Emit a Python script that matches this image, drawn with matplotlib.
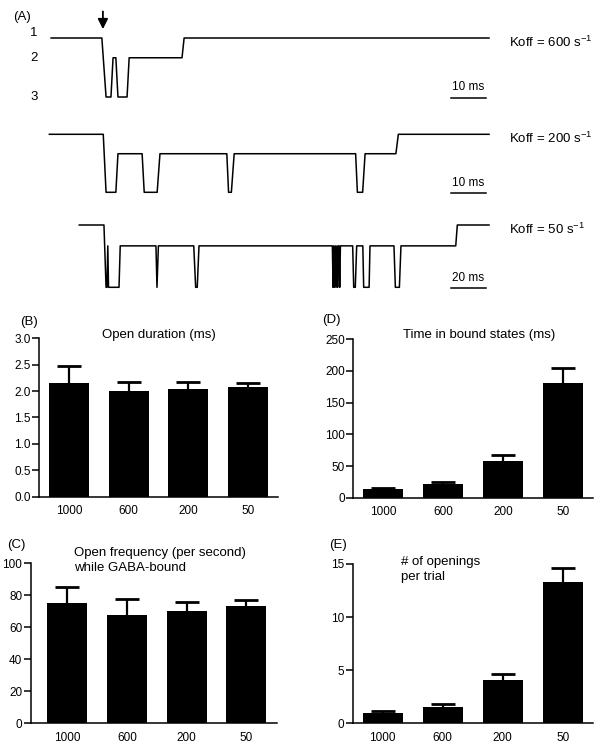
import matplotlib.pyplot as plt
import matplotlib.transforms as mtransforms
import numpy as np

plt.rcParams['font.family'] = ['Liberation Sans', 'DejaVu Sans']
plt.rcParams['mathtext.fontset'] = 'custom'
plt.rcParams['mathtext.rm'] = 'Liberation Sans'

# ---- panel A: single-channel state traces (time in ms, state 1/2/3) ----
trace1_t = [0.6, 15.1, 16.3, 17.7, 18.3, 19.1, 19.7, 22.3, 22.9, 38.0, 38.6, 125.7]
trace1_s = [1, 1, 3, 3, 2, 2, 3, 3, 2, 2, 1, 1]

trace2_t = [0.1, 15.5, 16.3, 19.1, 19.7, 26.6, 27.2, 30.9, 31.7, 50.8, 51.3, 52.1, 52.9,
            87.6, 88.1, 89.6, 90.3, 99.1, 99.8, 125.7]
trace2_s = [1, 1, 3, 3, 2, 2, 3, 3, 2, 2, 3, 3, 2, 2, 3, 3, 2, 2, 1, 1]

trace3_t = [17.3, 31.4, 32.6, 33.1, 33.6, 34.0, 40.0, 40.7, 61.1, 61.7, 62.5, 82.7, 83.8, 84.7,
            85.7, 161.9, 162.3, 162.7, 163.1, 163.6, 164.0, 164.5, 164.9, 165.3, 165.7, 166.1,
            166.5, 173.5, 174.1, 175.0, 175.8, 179.3, 179.8, 182.9, 183.4, 197.1, 197.9, 200.2,
            201.1, 232.4, 233.3, 251.4]
trace3_s = [1, 1, 3, 3, 2, 3, 3, 2, 2, 3, 2, 2, 3, 3, 2, 2, 3, 2, 3, 2, 3, 2, 3, 2, 2, 3,
            2, 2, 3, 3, 2, 2, 3, 3, 2, 2, 3, 3, 2, 2, 1, 1]

koff_values = [600, 200, 50]
scalebar_ms = [10, 10, 20]
trace_span_ms = [125.7, 125.7, 251.4]
arrow_time = 15.4

# ---- panels B-E ----
categories = ["1000", "600", "200", "50"]

open_duration = [2.15, 2.0, 2.045, 2.08]
open_duration_err = [0.32, 0.18, 0.12, 0.07]

open_freq = [75.0, 67.9, 70.4, 73.5]
open_freq_err = [10.2, 9.6, 5.6, 3.4]

bound_time = [13.3, 21.6, 58.4, 181.5]
bound_time_err = [2.5, 3.0, 8.5, 22.7]

n_openings = [1.0, 1.51, 4.11, 13.3]
n_openings_err = [0.19, 0.28, 0.56, 1.35]

W, H = 601, 751


def px_rect(l, t, r, b):
    return [l / W, 1 - b / H, (r - l) / W, (b - t) / H]


fig = plt.figure(figsize=(W / 100, H / 100), dpi=100)

level_y = {1: 1.0, 2: 0.665, 3: 0.0}
trace_boxes = [(38, 97), (134.3, 192.3), (225, 287.3)]
traces = [(trace1_t, trace1_s), (trace2_t, trace2_s), (trace3_t, trace3_s)]

for i, ((t, s), (top, bot)) in enumerate(zip(traces, trace_boxes)):
    ax = fig.add_axes(px_rect(49, top, 489, bot))
    ax.axis("off")
    span = trace_span_ms[i]
    ax.set_xlim(0, span)
    ax.set_ylim(0, 1)
    ax.plot(t, [level_y[v] for v in s], color="k", lw=1.1, clip_on=False)

    # scale bar
    x1 = span * 0.993
    x0 = x1 - scalebar_ms[i]
    ax.plot([x0, x1], [-0.01, -0.01], color="k", lw=1.1, clip_on=False)
    ax.annotate("%d ms" % scalebar_ms[i], xy=((x0 + x1) / 2, 0), xytext=(0, 7),
                textcoords="offset points", ha="center", va="center", fontsize=8.5)
    ax.text(1.045, 0.93, "Koff = %d s$^{-1}$" % koff_values[i], transform=ax.transAxes,
            ha="left", va="center", fontsize=9.5)

    if i == 0:
        trans = mtransforms.blended_transform_factory(ax.transAxes, ax.transData)
        for st, yy in [(1, 1.08), (2, 0.665), (3, 0.0)]:
            ax.text(-0.034, yy, str(st), transform=trans, ha="center", va="center", fontsize=9.5)
        ax.annotate("", xy=(arrow_time, 1.15), xytext=(arrow_time, 1.45),
                    arrowprops=dict(arrowstyle="-|>", color="k", lw=1.3, mutation_scale=15,
                                    shrinkA=0, shrinkB=0),
                    annotation_clip=False)


def bar_panel(rect, vals, errs, ylim, yticks, fmt, xlim=(-0.5, 3.5)):
    ax = fig.add_axes(rect)
    x = np.arange(len(categories))
    ax.bar(x, vals, width=0.67, color="black", zorder=2)
    _, caps, _ = ax.errorbar(x, vals, yerr=[np.zeros(len(vals)), errs], fmt="none",
                             ecolor="black", elinewidth=1.6, capsize=8.3, capthick=2.0,
                             zorder=1)
    # hide the lower caps (sitting on the bar tops)
    for c in caps:
        if np.allclose(c.get_ydata(), vals):
            c.set_visible(False)
    ax.set_xlim(*xlim)
    ax.set_ylim(*ylim)
    ax.set_yticks(yticks)
    ax.set_yticklabels([fmt % v for v in yticks])
    ax.set_xticks(x)
    ax.set_xticklabels(categories)
    for side in ["top", "right"]:
        ax.spines[side].set_visible(False)
    for side in ["left", "bottom"]:
        ax.spines[side].set_linewidth(1.1)
    ax.tick_params(axis="y", length=5, width=1.1, pad=1, labelsize=8.5, direction="out")
    ax.tick_params(axis="x", length=0, pad=6, labelsize=8.5)
    return ax


axB = bar_panel(px_rect(39, 338.3, 278, 496.7), open_duration, open_duration_err,
                (0, 3), [0, 0.5, 1.0, 1.5, 2.0, 2.5, 3.0], "%.1f")
axB.text(0.5, 1.021, "Open duration (ms)", transform=axB.transAxes, ha="center",
         va="center", fontsize=9.5)

axD = bar_panel(px_rect(353.3, 339.3, 592.7, 497.7), bound_time, bound_time_err,
                (0, 250), [0, 50, 100, 150, 200, 250], "%d")
axD.text(0.525, 1.027, "Time in bound states (ms)", transform=axD.transAxes, ha="center",
         va="center", fontsize=9.5)

axC = bar_panel(px_rect(30.7, 563.3, 276.7, 723.3), open_freq, open_freq_err,
                (0, 100), [0, 20, 40, 60, 80, 100], "%d", xlim=(-0.61, 3.51))
axC.text(0.176, 1.016, "Open frequency (per second)\nwhile GABA-bound", transform=axC.transAxes,
         ha="left", va="center", fontsize=9.5, linespacing=1.3)

axE = bar_panel(px_rect(352.7, 564, 592.7, 723.3), n_openings, n_openings_err,
                (0, 15), [0, 5, 10, 15], "%d")
axE.text(0.201, 0.967, "# of openings\nper trial", transform=axE.transAxes,
         ha="left", va="center", fontsize=9.5, linespacing=1.3)

for lab, (px, py) in zip(["(A)", "(B)", "(C)", "(D)", "(E)"],
                         [(13, 17), (20, 321.7), (7, 545), (321.7, 320), (329, 545)]):
    fig.text(px / W, 1 - py / H, lab, ha="left", va="center", fontsize=9.5)

plt.savefig("out.png", dpi=100)
